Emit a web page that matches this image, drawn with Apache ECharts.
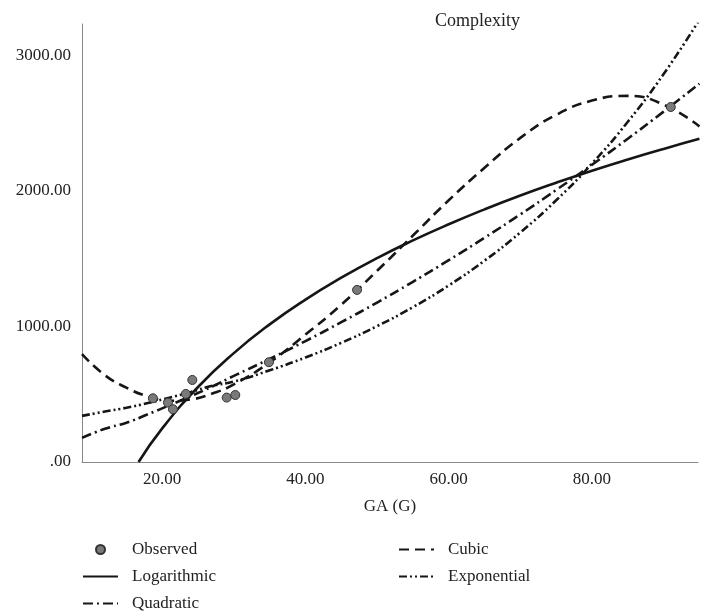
<!DOCTYPE html>
<html>
<head>
    <meta charset="UTF-8">
    <title>Complexity</title>
    <script src="https://cdn.jsdelivr.net/npm/echarts@6/dist/echarts.min.js"></script>
    <style type="text/css">
    * {
        margin: 0;
        padding: 0;
    }
    body {
        background-color: #fff;
    }
    #chart {
        width: 701px;
        height: 611px;
    }
    </style>
</head>
<body>
    <div id="chart"></div>
    <script>
        // observed points
        var obsX = [18.7, 20.8, 21.5, 23.3, 24.2, 29.0, 30.2, 34.9, 47.2, 91.0];
        var obsY = [470, 438, 389, 502, 605, 475, 494, 736, 1269, 2618];

        // fitted curves
        var fitX = [8.8, 12, 15, 18, 21, 24, 27, 30, 35, 40, 45, 50, 55, 60, 65, 70, 75, 80, 85, 90, 95];
        var cubicY = [795, 640, 548, 484, 452, 462, 505, 572, 735, 940, 1160, 1410, 1670, 1930, 2170, 2390, 2560, 2665, 2700, 2635, 2475];
        var quadY = [178, 245, 290, 352, 418, 486, 557, 635, 760, 892, 1031, 1176, 1329, 1488, 1654, 1826, 2006, 2192, 2384, 2584, 2790];
        var expY = [340, 372, 400, 435, 474, 516, 562, 593, 676, 771, 879, 1002, 1142, 1302, 1485, 1693, 1930, 2201, 2509, 2861, 3261];

        var logX = [16.7, 20, 25, 30, 35, 40, 45, 50, 55, 60, 65, 70, 75, 80, 85, 90, 95];
        var logY = [0, 248, 553, 803, 1015, 1198, 1359, 1504, 1634, 1753, 1863, 1965, 2059, 2148, 2231, 2309, 2383];

        var xTicks = [20, 40, 60, 80];
        var yTicks = [0, 1000, 2000, 3000];

        function pairs(xs, ys) {
            var out = [];
            for (var i = 0; i < xs.length; i++) {
                out.push([xs[i], ys[i]]);
            }
            return out;
        }

        var font = 'Liberation Serif';
        var ink = '#161616';

        function fitLine(name, xs, ys, dash) {
            return {
                name: name,
                type: 'line',
                data: pairs(xs, ys),
                smooth: true,
                symbol: 'none',
                clip: true,
                lineStyle: {color: ink, width: 2.6, type: dash},
                itemStyle: {color: ink},
                z: 2
            };
        }

        // legend entries for lines: hide the marker the legend puts in the middle
        function lineItem(name) {
            return {name: name, itemStyle: {color: 'rgba(0,0,0,0)', borderWidth: 0, opacity: 0}};
        }

        var legendText = {fontFamily: font, fontSize: 17, color: '#222', padding: [0, 0, 0, 9]};

        var chart = echarts.init(document.getElementById('chart'), null, {renderer: 'canvas'});
        chart.setOption({
            animation: false,
            title: {
                text: 'Complexity',
                left: 435,
                top: 12,
                padding: 0,
                textStyle: {fontFamily: font, fontSize: 18, fontWeight: 'normal', color: '#222'}
            },
            grid: {left: 82, right: 0, top: 24, bottom: 149},
            legend: [
                {
                    data: ['Observed', lineItem('Logarithmic'), lineItem('Quadratic')],
                    orient: 'vertical',
                    left: 82,
                    top: 541,
                    height: 90,
                    padding: 0,
                    itemWidth: 35,
                    itemHeight: 9,
                    itemGap: 10,
                    textStyle: legendText
                },
                {
                    data: [lineItem('Cubic'), lineItem('Exponential')],
                    orient: 'vertical',
                    left: 398,
                    top: 541,
                    height: 90,
                    padding: 0,
                    itemWidth: 35,
                    itemHeight: 9,
                    itemGap: 10,
                    textStyle: legendText
                }
            ],
            xAxis: {
                type: 'value',
                min: 8.8,
                max: 94.8,
                name: 'GA (G)',
                nameLocation: 'middle',
                nameGap: 36,
                nameTextStyle: {fontFamily: font, fontSize: 17, color: '#222'},
                axisLine: {show: true, lineStyle: {color: '#888', width: 1}},
                axisTick: {show: false},
                splitLine: {show: false},
                axisLabel: {
                    margin: 9,
                    fontFamily: font,
                    fontSize: 17,
                    color: '#222',
                    formatter: function (v) {
                        return xTicks.indexOf(v) >= 0 ? v.toFixed(2) : '';
                    }
                }
            },
            yAxis: {
                type: 'value',
                min: 0,
                max: 3230,
                interval: 1000,
                axisLine: {show: true, lineStyle: {color: '#888', width: 1}},
                axisTick: {show: false},
                splitLine: {show: false},
                axisLabel: {
                    margin: 11,
                    fontFamily: font,
                    fontSize: 17,
                    color: '#222',
                    formatter: function (v) {
                        if (yTicks.indexOf(v) < 0) return '';
                        return v === 0 ? '.00' : v.toFixed(2);
                    }
                }
            },
            series: [
                {
                    name: 'Observed',
                    type: 'scatter',
                    data: pairs(obsX, obsY),
                    symbol: 'circle',
                    symbolSize: 9,
                    itemStyle: {color: '#7a7a7a', borderColor: '#333', borderWidth: 1, opacity: 1},
                    z: 5
                },
                fitLine('Logarithmic', logX, logY, 'solid'),
                fitLine('Quadratic', fitX, quadY, [10, 4, 2, 4]),
                fitLine('Cubic', fitX, cubicY, [10, 6]),
                fitLine('Exponential', fitX, expY, [8, 3, 2, 3, 2, 3])
            ]
        });
    </script>
</body>
</html>
